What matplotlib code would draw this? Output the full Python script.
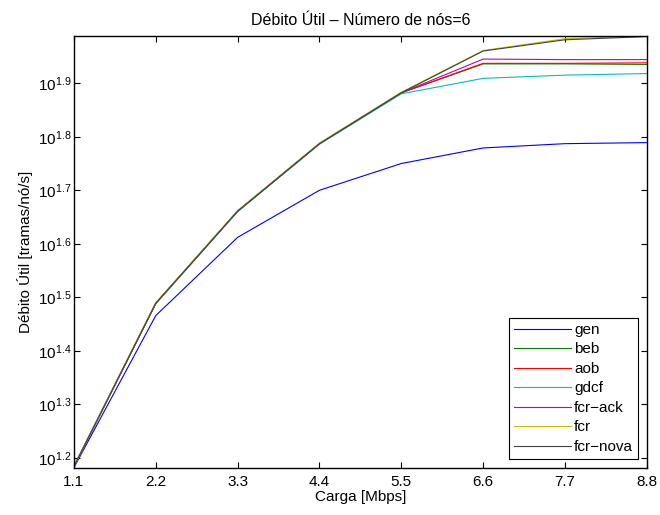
import matplotlib
matplotlib.use("Agg")
import matplotlib.pyplot as plt

plt.rcParams["font.family"] = ["Liberation Sans", "DejaVu Sans"]
plt.rcParams["mathtext.fontset"] = "custom"
plt.rcParams["mathtext.rm"] = "Liberation Sans"
plt.rcParams["mathtext.it"] = "Liberation Sans:italic"
plt.rcParams["font.size"] = 11

# carga oferecida (Mbps)
carga = [1.1, 2.2, 3.3, 4.4, 5.5, 6.6, 7.7, 8.8]

# débito útil (tramas/nó/s) por protocolo
gen = [15.21, 29.24, 40.93, 50.12, 56.23, 60.12, 61.24, 61.52]
beb = [15.28, 30.83, 45.81, 61.24, 76.21, 86.30, 86.30, 86.10]
aob = [15.28, 30.83, 45.81, 61.24, 76.21, 86.50, 86.50, 86.70]
gdcf = [15.28, 30.76, 45.71, 61.09, 75.86, 81.10, 82.22, 82.79]
fcr_ack = [15.28, 30.83, 45.81, 61.24, 76.21, 88.10, 87.90, 87.90]
fcr = [15.28, 30.90, 45.92, 61.38, 76.38, 91.41, 96.16, 97.27]
fcr_nova = [15.28, 30.83, 45.81, 61.24, 76.21, 91.20, 95.72, 97.05]

nomes = ["gen", "beb", "aob", "gdcf", "fcr\u2212ack", "fcr", "fcr\u2212nova"]
series = [gen, beb, aob, gdcf, fcr_ack, fcr, fcr_nova]
cores = [(0, 0, 1), (0, 0.5, 0), (1, 0, 0), (0, 0.75, 0.75),
         (0.75, 0, 0.75), (0.75, 0.75, 0), (0.25, 0.25, 0.25)]

yexp = [1.2, 1.3, 1.4, 1.5, 1.6, 1.7, 1.8, 1.9]

fig = plt.figure(figsize=(6.6, 5.15), dpi=100)
ax = fig.add_axes([0.112, 0.092, 0.868, 0.838])

for y, nome, c in zip(series, nomes, cores):
    ax.plot(carga, y, color=c, lw=0.8, label=nome)

ax.set_yscale("log")
ax.set_xlim(carga[0], carga[-1])
todos = [v for s in series for v in s]
ax.set_ylim(min(todos), max(todos))
ax.set_xticks(carga)
ax.set_xticklabels([f"{c:.1f}" for c in carga])
ax.set_yticks([10 ** e for e in yexp])
ax.set_yticklabels([r"$\mathregular{10^{%.1f}}$" % e for e in yexp])
ax.yaxis.set_minor_locator(matplotlib.ticker.NullLocator())

ax.tick_params(which="both", direction="in", top=True, right=True,
               length=4.2, width=0.8, labelsize=11)
ax.tick_params(axis="x", pad=5)
ax.tick_params(axis="y", pad=2)
for s in ax.spines.values():
    s.set_linewidth(1.0)

ax.set_title("Débito Útil \u2013 Número de nós=6", fontsize=11.5, pad=8)
ax.set_xlabel("Carga [Mbps]", fontsize=11, labelpad=1)
ax.set_ylabel("Débito Útil [tramas/nó/s]", fontsize=11, labelpad=3)

leg = ax.legend(loc="lower right", fancybox=False, framealpha=1,
                edgecolor="black", borderaxespad=0.55, handlelength=3.7,
                labelspacing=0.36, handletextpad=0.2, borderpad=0.35,
                fontsize=11)
leg.get_frame().set_linewidth(0.8)

fig.savefig("out.png", dpi=100)
